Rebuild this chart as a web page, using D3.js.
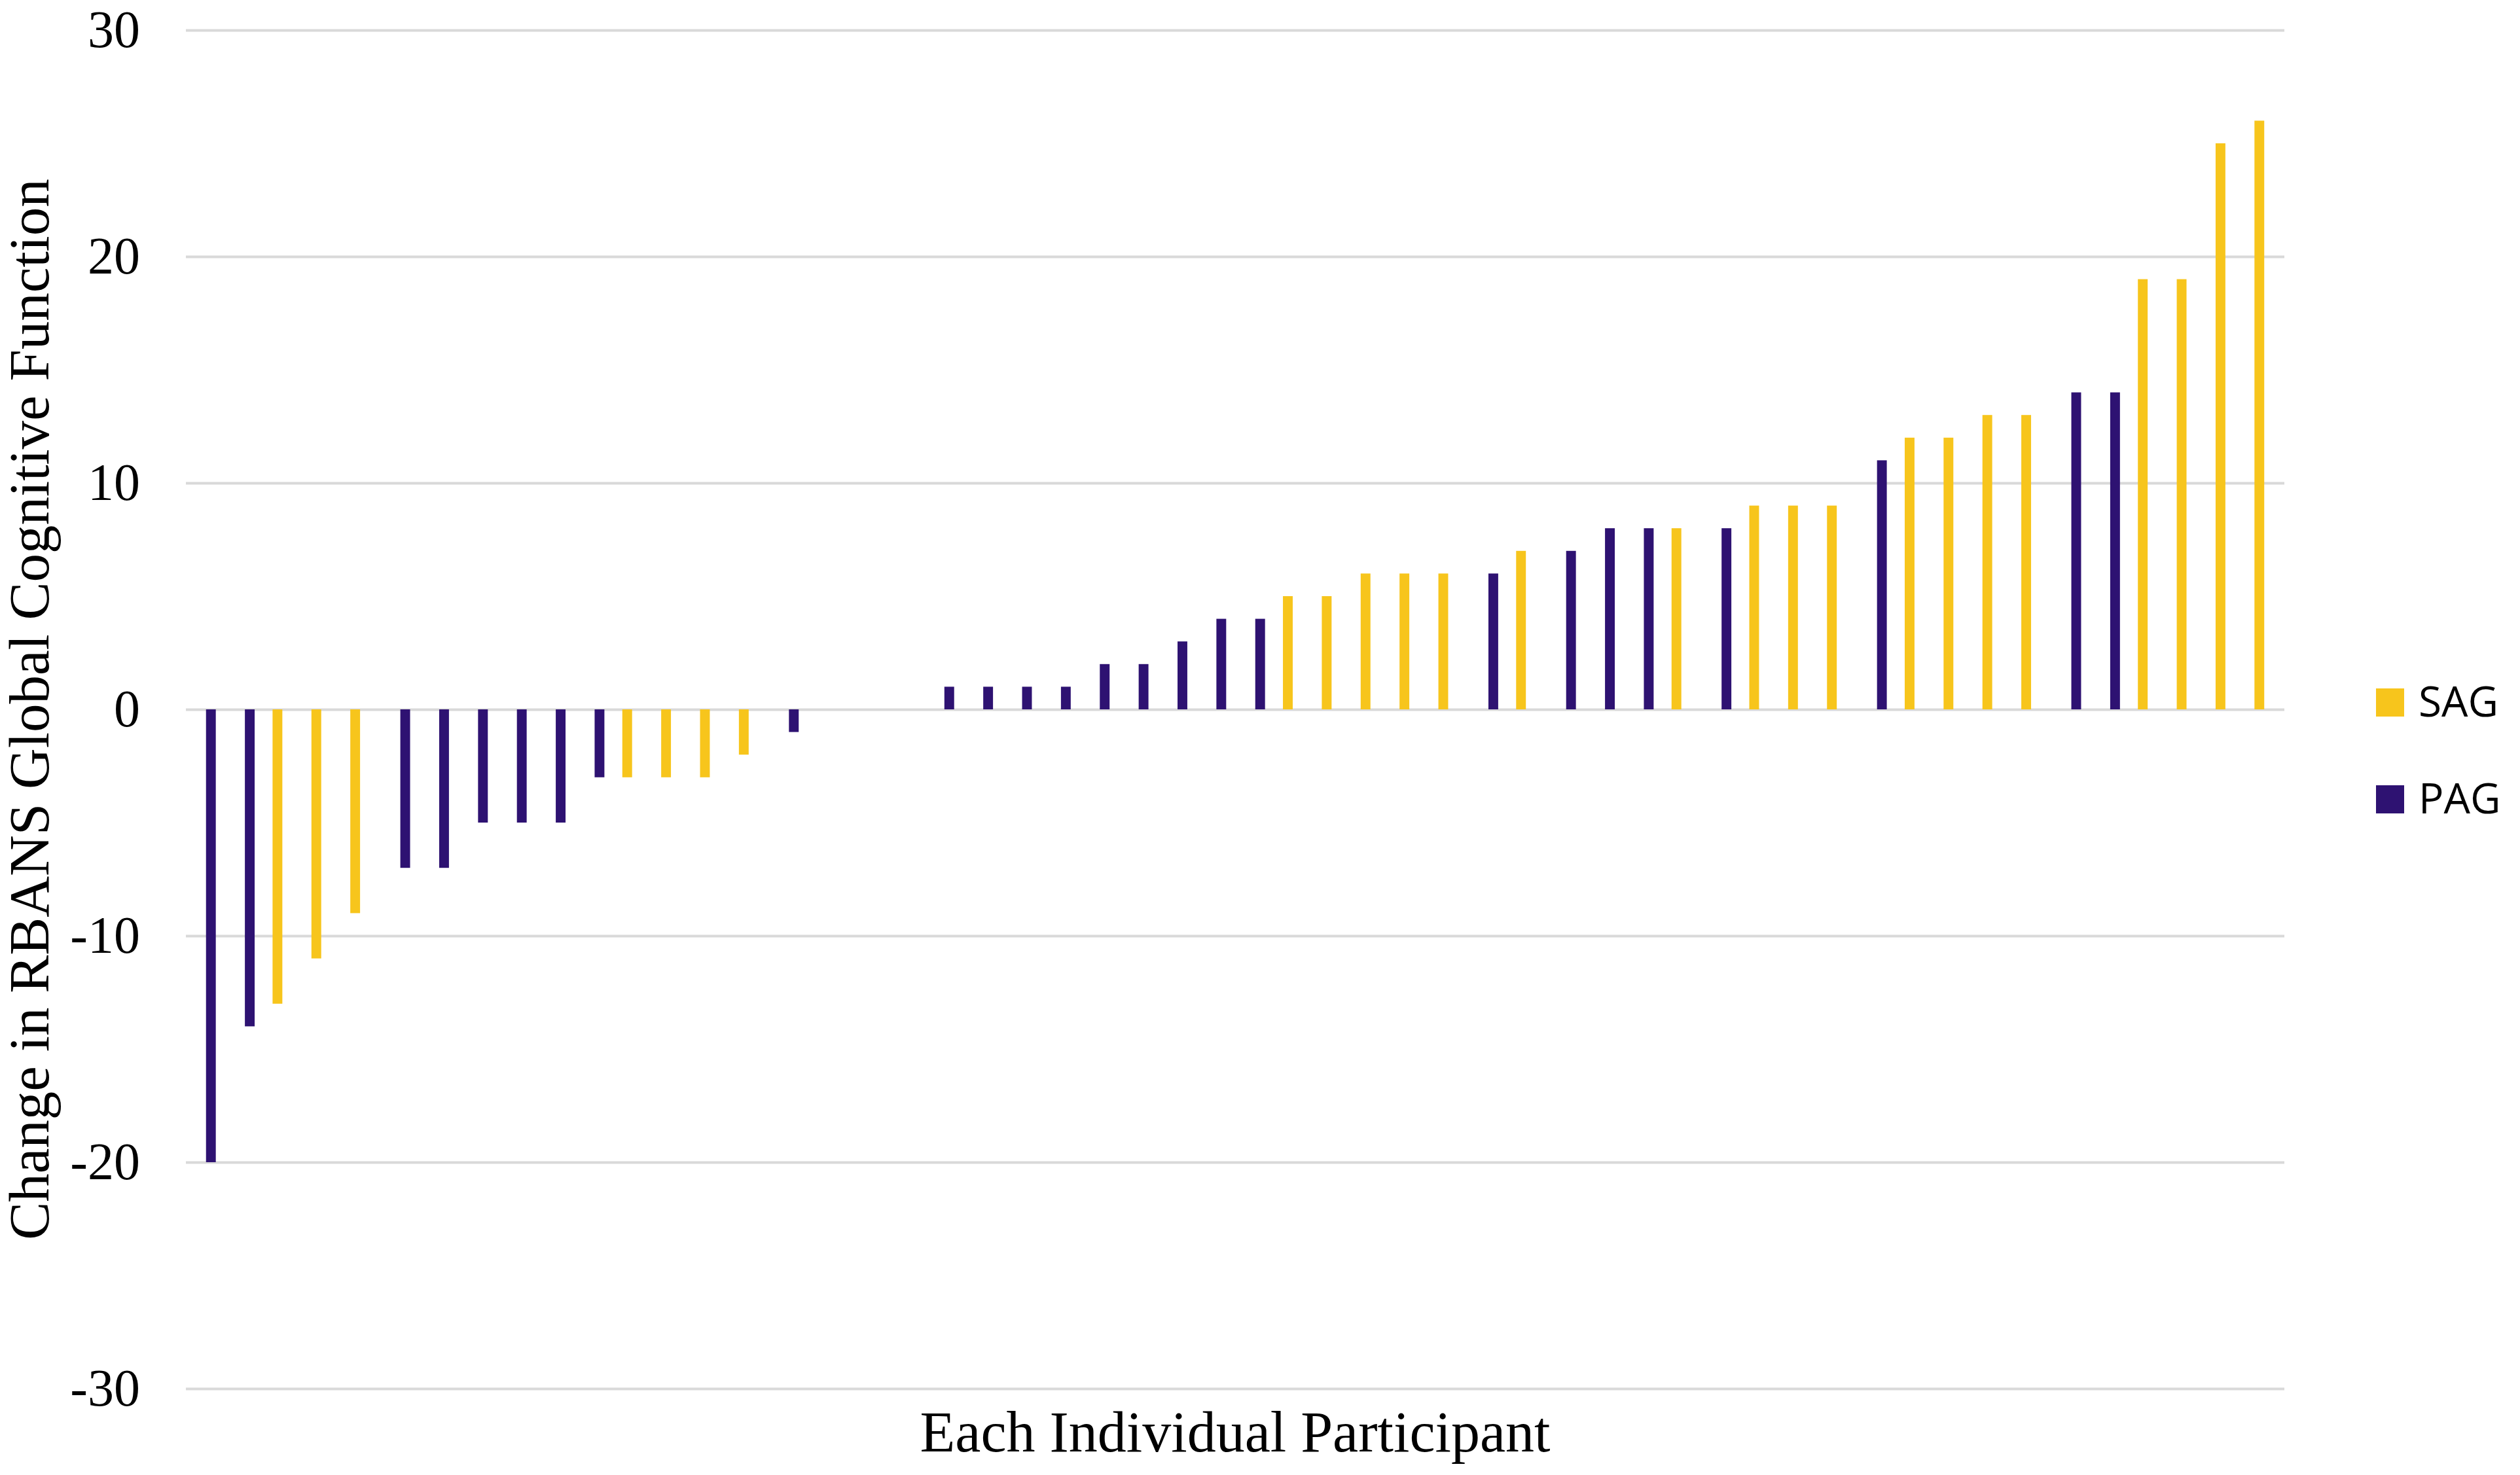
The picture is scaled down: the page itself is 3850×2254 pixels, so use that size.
<!DOCTYPE html>
<html>
<head>
<meta charset="utf-8">
<script src="https://cdn.jsdelivr.net/npm/d3@7"></script>
<style>
  html, body { margin: 0; padding: 0; background: #fff; }
</style>
</head>
<body>
<div class="chart"></div>
<script>
// one slot per participant, sorted by change
const participants = d3.range(1, 55).map(String);
const groups = [
    'PAG', 'PAG', 'SAG', 'SAG', 'SAG', 'PAG', 'PAG', 'PAG', 'PAG', 'PAG',
    'PAG', 'SAG', 'SAG', 'SAG', 'SAG', 'PAG', 'SAG', 'PAG', 'SAG', 'PAG',
    'PAG', 'PAG', 'PAG', 'PAG', 'PAG', 'PAG', 'PAG', 'PAG', 'SAG', 'SAG',
    'SAG', 'SAG', 'SAG', 'PAG', 'SAG', 'PAG', 'PAG', 'PAG', 'SAG', 'PAG',
    'SAG', 'SAG', 'SAG', 'PAG', 'SAG', 'SAG', 'SAG', 'SAG', 'PAG', 'PAG',
    'SAG', 'SAG', 'SAG', 'SAG'
];
const changes = [
    -20, -14, -13, -11, -9, -7, -7, -5, -5, -5,
    -3, -3, -3, -3, -2, -1, 0, 0, 0, 1,
    1, 1, 1, 2, 2, 3, 4, 4, 5, 5,
    6, 6, 6, 6, 7, 7, 8, 8, 8, 8,
    9, 9, 9, 11, 12, 12, 13, 13, 14, 14,
    19, 19, 25, 26
];
const seriesNames = ['SAG', 'PAG'];
const seriesColors = ['#F7C51C', '#2E1272'];
const yTicks = [-30, -20, -10, 0, 10, 20, 30];

const W = 3850, H = 2254;
const margin = { left: 284, right: 360, top: 46, bottom: 132 };

const svg = d3.select('.chart').append('svg')
    .attr('width', W)
    .attr('height', H)
    .style('display', 'block');

svg.append('rect').attr('width', W).attr('height', H).attr('fill', '#fff');

const x = d3.scaleBand()
    .domain(participants)
    .range([margin.left, W - margin.right]);

// two series slots inside each participant band
const xs = d3.scaleBand()
    .domain(seriesNames)
    .range([x.bandwidth() / 2 - 16, x.bandwidth() / 2 + 16])
    .paddingInner(0.125);

const y = d3.scaleLinear()
    .domain([-30, 30])
    .range([H - margin.bottom, margin.top]);

const color = d3.scaleOrdinal(seriesNames, seriesColors);

// gridlines + tick labels
const yAxis = svg.append('g')
    .attr('transform', `translate(${margin.left},0)`)
    .call(d3.axisLeft(y)
        .tickValues(yTicks)
        .tickSize(-(W - margin.left - margin.right))
        .tickPadding(70)
        .tickFormat(d3.format('d')));
yAxis.select('.domain').remove();
yAxis.selectAll('.tick line')
    .attr('stroke', '#d9d9d9')
    .attr('stroke-width', 4);
yAxis.selectAll('.tick text')
    .attr('font-family', '"Liberation Serif", "Times New Roman", serif')
    .attr('font-size', 80)
    .attr('fill', '#000')
    .text(d => d < 0 ? '-' + Math.abs(d) : d);

const rows = participants.map((p, i) => ({ id: p, group: groups[i], value: changes[i] }));

svg.append('g')
    .selectAll('rect')
    .data(rows)
    .join('rect')
    .attr('x', d => x(d.id) + xs(d.group))
    .attr('width', xs.bandwidth())
    .attr('y', d => y(Math.max(0, d.value)))
    .attr('height', d => Math.abs(y(d.value) - y(0)))
    .attr('fill', d => color(d.group));

// axis titles
svg.append('text')
    .attr('transform', `translate(74,${y(0)}) rotate(-90)`)
    .attr('text-anchor', 'middle')
    .attr('font-family', '"Liberation Serif", "Times New Roman", serif')
    .attr('font-size', 87)
    .attr('fill', '#000')
    .text('Change in RBANS Global Cognitive Function');

svg.append('text')
    .attr('x', (margin.left + W - margin.right) / 2)
    .attr('y', 2218)
    .attr('text-anchor', 'middle')
    .attr('font-family', '"Liberation Serif", "Times New Roman", serif')
    .attr('font-size', 88)
    .attr('fill', '#000')
    .text('Each Individual Participant');

// legend
const legend = svg.append('g')
    .selectAll('g')
    .data(seriesNames)
    .join('g')
    .attr('transform', (d, i) => `translate(3630,${1052 + i * 148})`);
legend.append('rect')
    .attr('width', 43)
    .attr('height', 43)
    .attr('fill', d => color(d));
legend.append('text')
    .attr('x', 65)
    .attr('y', 43)
    .attr('font-family', '"Open Sans", sans-serif')
    .attr('font-size', 64)
    .attr('fill', '#000')
    .text(d => d);
</script>
</body>
</html>
